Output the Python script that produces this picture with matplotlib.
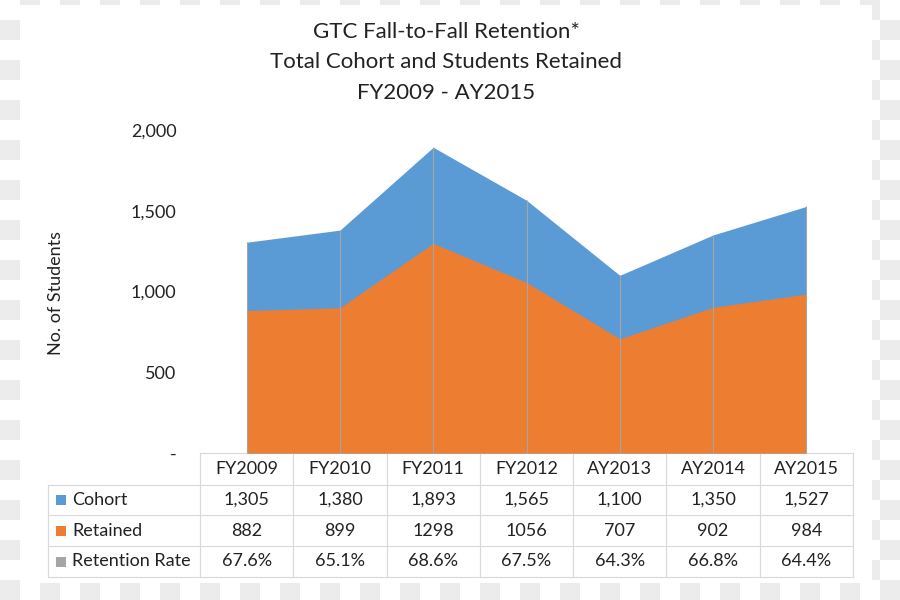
import matplotlib.pyplot as plt
from matplotlib.patches import Rectangle

plt.rcParams['font.family'] = ['Lato', 'DejaVu Sans']

years = ['FY2009', 'FY2010', 'FY2011', 'FY2012', 'AY2013', 'AY2014', 'AY2015']
cohort = [1305, 1380, 1893, 1565, 1100, 1350, 1527]
retained = [882, 899, 1298, 1056, 707, 902, 984]
rate = [67.6, 65.1, 68.6, 67.5, 64.3, 66.8, 64.4]
yticks = [0, 500, 1000, 1500, 2000]

BLUE = '#5B9BD5'
ORANGE = '#ED7D31'
GRAY = '#A5A5A5'
TXT = '#222222'
GRID = '#D9D9D9'
FS = 13

W, H = 900, 600
fig = plt.figure(figsize=(9, 6), dpi=100)

# background: transparency checker + white card (pixel coords)
bg = fig.add_axes([0, 0, 1, 1])
bg.set_xlim(0, W)
bg.set_ylim(H, 0)
bg.axis('off')
for r in range(H // 20):
    for c in range(W // 20):
        if (r + c) % 2:
            bg.add_patch(Rectangle((c * 20, r * 20), 20, 20, color='#ECECEC', lw=0))
bg.add_patch(Rectangle((20, 5), 852, 578, color='white', lw=0))

# title
for i, line in enumerate(['GTC Fall-to-Fall Retention*',
                          'Total Cohort and Students Retained',
                          'FY2009 - AY2015']):
    bg.text(446, 32 + i * 30.5, line, ha='center', va='center', fontsize=16, color=TXT)

bg.text(56, 293, 'No. of Students', rotation=90, ha='center', va='center',
        fontsize=FS, color=TXT)

# plot area
x0, x1, y0, y1 = 200, 853, 453, 130
ax = fig.add_axes([x0 / W, (H - y0) / H, (x1 - x0) / W, (y0 - y1) / H])
ax.patch.set_alpha(0)
xs = list(range(len(years)))
ax.fill_between(xs, cohort, color=BLUE, lw=0, zorder=1)
ax.fill_between(xs, retained, color=ORANGE, lw=0, zorder=2)
ax.vlines(xs, 0, cohort, color=GRAY, lw=0.8, zorder=3)
ax.set_xlim(-0.5, len(years) - 0.5)
ax.set_ylim(0, 2000)
ax.set_yticks(yticks)
ax.set_yticklabels(['-' if v == 0 else f'{v:,}' for v in yticks])
ax.tick_params(axis='y', length=0, pad=17, labelsize=FS, labelcolor=TXT)
ax.set_xticks([])
for s in ax.spines.values():
    s.set_visible(False)

# data table (pixel coords on bg)
colw = (x1 - x0) / len(years)
rows = [453, 485, 515, 546, 577]
tl = 48
lc = dict(color=GRID, lw=0.8)
bg.plot([x0, x1], [rows[0], rows[0]], **lc)
for yy in rows[1:]:
    bg.plot([tl, x1], [yy, yy], **lc)
bg.plot([tl, tl], [rows[1], rows[-1]], **lc)
for i in range(len(years) + 1):
    bg.plot([x0 + i * colw] * 2, [rows[0], rows[-1]], **lc)

def row_center(k):
    return (rows[k] + rows[k + 1]) / 2

for i, yname in enumerate(years):
    cx = x0 + (i + 0.5) * colw
    bg.text(cx, row_center(0), yname, ha='center', va='center', fontsize=FS, color=TXT)
    bg.text(cx, row_center(1), f'{cohort[i]:,}', ha='center', va='center', fontsize=FS, color=TXT)
    bg.text(cx, row_center(2), f'{retained[i]}', ha='center', va='center', fontsize=FS, color=TXT)
    bg.text(cx, row_center(3), f'{rate[i]:.1f}%', ha='center', va='center', fontsize=FS, color=TXT)

for k, (name, col) in enumerate([('Cohort', BLUE), ('Retained', ORANGE),
                                 ('Retention Rate', GRAY)], start=1):
    cy = row_center(k)
    bg.add_patch(Rectangle((56, cy - 5), 10, 10, color=col, lw=0))
    bg.text(72, cy, name, ha='left', va='center', fontsize=FS, color=TXT)

fig.savefig('out.png', dpi=100)
